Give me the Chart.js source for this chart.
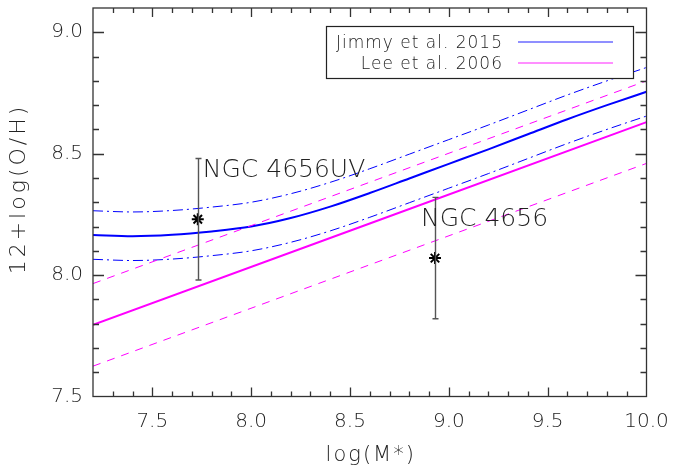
<!DOCTYPE html>
<html>
<head>
<meta charset="utf-8">
<script src="https://cdn.jsdelivr.net/npm/chart.js@4.4.1/dist/chart.umd.min.js"></script>
<style>
  html, body { margin: 0; padding: 0; background: #fff; }
  #wrap { width: 673px; height: 470px; }
</style>
</head>
<body>
<div id="wrap"><canvas id="ohChart" width="673" height="470"></canvas></div>
<script>
// Jimmy et al. 2015 relation, sampled along log(M*)
const massGrid  = [7.2, 7.4, 7.6, 7.8, 8.0, 8.2, 8.4, 8.6, 8.8, 9.0, 9.2, 9.4, 9.6, 9.8, 10.0];
const jimmyMid  = [8.165, 8.160, 8.166, 8.180, 8.200, 8.235, 8.282, 8.338, 8.398, 8.458, 8.518, 8.580, 8.642, 8.700, 8.755];
const jimmyHigh = [8.265, 8.260, 8.266, 8.280, 8.300, 8.335, 8.382, 8.438, 8.498, 8.558, 8.618, 8.680, 8.742, 8.800, 8.855];
const jimmyLow  = [8.065, 8.060, 8.066, 8.080, 8.100, 8.135, 8.182, 8.238, 8.298, 8.358, 8.418, 8.480, 8.542, 8.600, 8.655];

// Lee et al. 2006 relation (straight line) and its scatter
const leeMass = [7.2, 10.0];
const leeMid  = [7.795, 8.630];
const leeHigh = [7.965, 8.800];
const leeLow  = [7.625, 8.460];

// measured galaxies
const galaxyNames = ['NGC 4656UV', 'NGC 4656'];
const galaxyMass  = [7.73, 8.93];
const galaxyOH    = [8.23, 8.07];
const galaxyErr   = [0.25, 0.25];

const xTicks = [7.5, 8.0, 8.5, 9.0, 9.5, 10.0];
const yTicks = [7.5, 8.0, 8.5, 9.0];
const legendNames = ['Jimmy et al. 2015', 'Lee et al. 2006'];
const xTitle = 'log(M*)';
const yTitle = '12+log(O/H)';

const FONT = '"DejaVu Sans", "Liberation Sans", sans-serif';
const INK = '#222';
const BLUE = '#0000ff';
const MAGENTA = '#ff00ff';

const pts = (xs, ys) => xs.map((x, i) => ({ x: x, y: ys[i] }));

function curve(data, color, width, dash) {
  return {
    data: data,
    showLine: true,
    borderColor: color,
    borderWidth: width,
    borderDash: dash,
    pointRadius: 0,
    cubicInterpolationMode: 'monotone',
    fill: false
  };
}

// box, inward ticks on all four sides
const frameTicks = {
  id: 'frameTicks',
  afterDatasetsDraw(chart) {
    const { ctx, chartArea: a, scales: { x, y } } = chart;
    ctx.save();
    ctx.strokeStyle = '#333';
    ctx.lineWidth = 1.3;
    ctx.strokeRect(a.left, a.top, a.right - a.left, a.bottom - a.top);
    ctx.beginPath();
    for (let i = 73; i < 100; i++) {
      const px = Math.round(x.getPixelForValue(i / 10)) + 0.5;
      const len = i % 5 === 0 ? 9 : 5;
      ctx.moveTo(px, a.bottom); ctx.lineTo(px, a.bottom - len);
      ctx.moveTo(px, a.top); ctx.lineTo(px, a.top + len);
    }
    for (let i = 76; i <= 90; i++) {
      const py = Math.round(y.getPixelForValue(i / 10)) + 0.5;
      const len = i % 5 === 0 ? 11 : 6;
      ctx.moveTo(a.left, py); ctx.lineTo(a.left + len, py);
      ctx.moveTo(a.right, py); ctx.lineTo(a.right - len, py);
    }
    ctx.stroke();

    // axis titles (wide lettering like the original)
    ctx.fillStyle = INK;
    ctx.textAlign = 'center';
    ctx.textBaseline = 'middle';
    ctx.font = '200 21px ' + FONT;
    ctx.letterSpacing = '2px';
    ctx.fillText(xTitle, (a.left + a.right) / 2 + 1, 456);
    ctx.translate(19, 189);
    ctx.rotate(-Math.PI / 2);
    ctx.font = '200 22px ' + FONT;
    ctx.letterSpacing = '3px';
    ctx.fillText(yTitle, 0, 0);
    ctx.restore();
  }
};

// vertical error bars and the galaxy names
const galaxyMarks = {
  id: 'galaxyMarks',
  afterDatasetsDraw(chart) {
    const { ctx, scales: { x, y } } = chart;
    const labelShift = [[5, -42], [-14, -32]];
    ctx.save();
    ctx.strokeStyle = '#555';
    ctx.lineWidth = 1.4;
    galaxyMass.forEach((m, i) => {
      const px = Math.round(x.getPixelForValue(m)) + 0.5;
      const top = y.getPixelForValue(galaxyOH[i] + galaxyErr[i]);
      const bot = y.getPixelForValue(galaxyOH[i] - galaxyErr[i]);
      ctx.beginPath();
      ctx.moveTo(px, top); ctx.lineTo(px, bot);
      ctx.moveTo(px - 3, top); ctx.lineTo(px + 3, top);
      ctx.moveTo(px - 3, bot); ctx.lineTo(px + 3, bot);
      ctx.stroke();
    });
    ctx.fillStyle = INK;
    ctx.font = '200 25px ' + FONT;
    ctx.textAlign = 'left';
    ctx.textBaseline = 'alphabetic';
    galaxyNames.forEach((name, i) => {
      const px = x.getPixelForValue(galaxyMass[i]);
      const py = y.getPixelForValue(galaxyOH[i]);
      ctx.fillText(name, px + labelShift[i][0], py + labelShift[i][1]);
    });
    ctx.restore();
  }
};

// legend box in the upper right
const legendBox = {
  id: 'legendBox',
  afterDraw(chart) {
    const { ctx } = chart;
    const colors = ['#6a6aff', '#ff6aff'];
    ctx.save();
    ctx.fillStyle = '#fff';
    ctx.fillRect(326, 26, 307, 52);
    ctx.strokeStyle = '#222';
    ctx.lineWidth = 1.2;
    ctx.strokeRect(326.5, 26.5, 307, 52);
    ctx.font = '200 17px ' + FONT;
    ctx.letterSpacing = '1px';
    ctx.fillStyle = INK;
    ctx.textAlign = 'right';
    ctx.textBaseline = 'alphabetic';
    legendNames.forEach((name, i) => {
      const ly = 42 + i * 21;
      ctx.fillText(name, 503, ly + 5.5);
      ctx.strokeStyle = colors[i];
      ctx.lineWidth = 1.6;
      ctx.beginPath();
      ctx.moveTo(518, ly); ctx.lineTo(613, ly);
      ctx.stroke();
    });
    ctx.restore();
  }
};

new Chart(document.getElementById('ohChart'), {
  type: 'scatter',
  data: {
    datasets: [
      curve(pts(leeMass, leeHigh), MAGENTA, 1, [8, 7]),
      curve(pts(leeMass, leeLow), MAGENTA, 1, [8, 7]),
      curve(pts(leeMass, leeMid), MAGENTA, 2, []),
      curve(pts(massGrid, jimmyHigh), BLUE, 1, [10, 4, 2, 4]),
      curve(pts(massGrid, jimmyLow), BLUE, 1, [10, 4, 2, 4]),
      curve(pts(massGrid, jimmyMid), BLUE, 2, []),
      {
        data: pts(galaxyMass, galaxyOH),
        showLine: false,
        pointStyle: 'star',
        pointRadius: 6,
        borderColor: '#000',
        backgroundColor: '#000',
        borderWidth: 2
      }
    ]
  },
  options: {
    responsive: false,
    animation: false,
    devicePixelRatio: 1,
    layout: { padding: { top: 5, right: 26.5, left: 0, bottom: 0 } },
    plugins: { legend: { display: false }, tooltip: { enabled: false } },
    scales: {
      x: {
        type: 'linear',
        min: 7.2,
        max: 10.0,
        afterBuildTicks: s => { s.ticks = xTicks.map(v => ({ value: v })); },
        afterFit: s => { s.height = 73.5; s.paddingLeft = 0; s.paddingRight = 0; },
        grid: { display: false, drawTicks: false },
        border: { display: false },
        ticks: {
          padding: 13,
          color: INK,
          autoSkip: false,
          maxRotation: 0,
          font: { family: FONT, size: 20, weight: '200' },
          callback: v => v.toFixed(1)
        },
        title: { display: false }
      },
      y: {
        type: 'linear',
        min: 7.5,
        max: 9.1,
        afterBuildTicks: s => { s.ticks = yTicks.map(v => ({ value: v })); },
        afterFit: s => { s.width = 93; s.paddingTop = 0; s.paddingBottom = 0; },
        grid: { display: false, drawTicks: false },
        border: { display: false },
        ticks: {
          padding: 10,
          color: INK,
          autoSkip: false,
          font: { family: FONT, size: 20, weight: '200' },
          callback: v => v.toFixed(1)
        },
        title: { display: false }
      }
    }
  },
  plugins: [frameTicks, galaxyMarks, legendBox]
});
</script>
</body>
</html>
